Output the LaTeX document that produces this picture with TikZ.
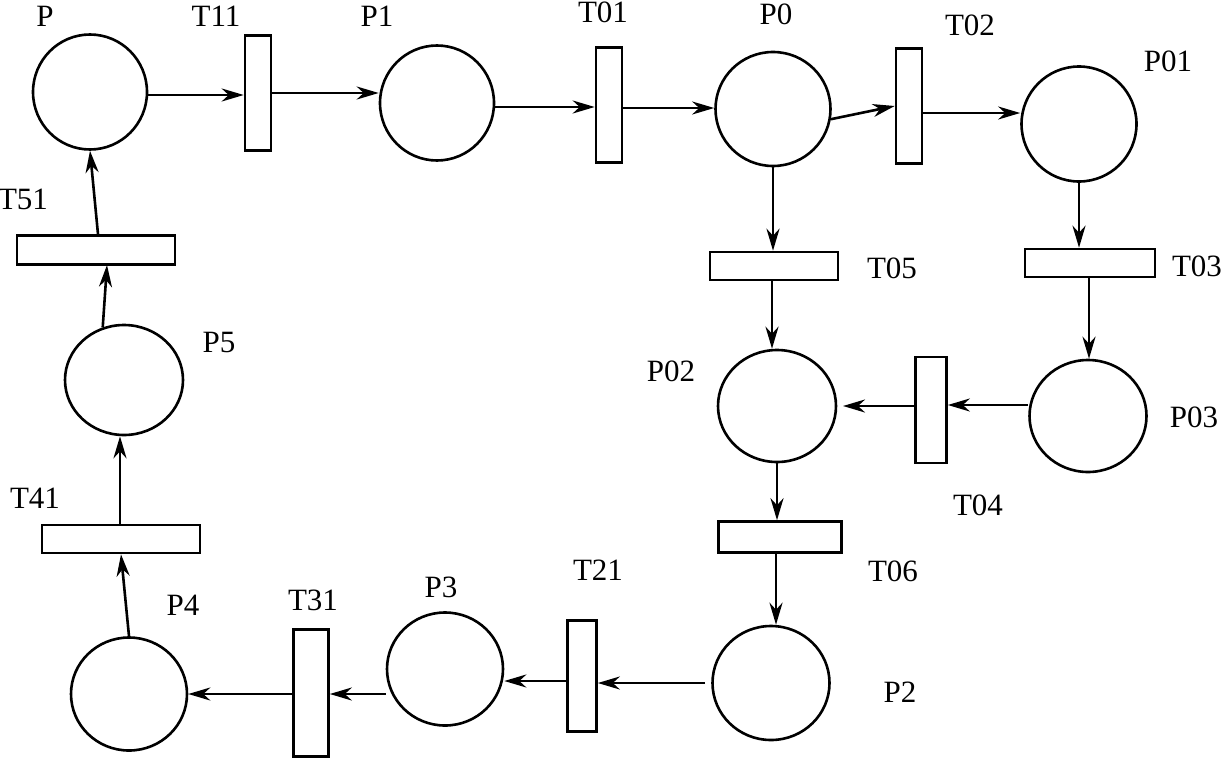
\documentclass[tikz,border=0pt]{standalone}
\usepackage{fontspec}
\setmainfont{Liberation Serif}
\usetikzlibrary{shapes.geometric,arrows.meta}
\begin{document}
\begin{tikzpicture}[x=1pt,y=-1pt,
  line width=2.6pt,
  place/.style={draw,ellipse,inner sep=0pt},
  vtrans/.style={draw,rectangle,inner sep=0pt,minimum width=26pt,minimum height=115pt},
  htrans/.style={draw,rectangle,inner sep=0pt,minimum width=128pt,minimum height=28pt},
  lbl/.style={inner sep=0pt,font=\fontsize{31}{33}\selectfont},
  arc/.style={-{Stealth[length=22pt,width=13pt,inset=7pt]}}]
\useasboundingbox (0,0) rectangle (1222,760);
% places
\node[place,minimum width=114pt,minimum height=115pt] (P) at (90,92) {};
\node[place,minimum width=114pt,minimum height=115pt] (P1) at (437,103) {};
\node[place,minimum width=115pt,minimum height=114pt] (P0) at (773,109) {};
\node[place,minimum width=115pt,minimum height=115pt] (P01) at (1079,124) {};
\node[place,minimum width=118pt,minimum height=112pt] (P02) at (777,406) {};
\node[place,minimum width=117pt,minimum height=112pt] (P03) at (1088,416) {};
\node[place,minimum width=117pt,minimum height=114pt] (P2) at (771,683) {};
\node[place,minimum width=116pt,minimum height=113pt] (P3) at (445,669) {};
\node[place,minimum width=116pt,minimum height=113pt] (P4) at (129,694) {};
\node[place,minimum width=118pt,minimum height=110pt] (P5) at (124,380) {};
% transitions
\node[vtrans] (T11) at (258,93) {};
\node[vtrans] (T01) at (609,105) {};
\node[vtrans] (T02) at (909,106) {};
\node[vtrans,minimum width=31pt,minimum height=106pt] (T04) at (931,410) {};
\node[vtrans,minimum width=29pt,minimum height=111pt] (T21) at (582,676) {};
\node[vtrans,minimum width=35pt,minimum height=127pt] (T31) at (311,693) {};
\node[htrans] (T05) at (774,266) {};
\node[htrans,minimum width=130pt] (T03) at (1090,263) {};
\node[htrans,minimum width=123pt,minimum height=31pt] (T06) at (780,537) {};
\node[htrans,minimum width=158pt] (T41) at (121,539) {};
\node[htrans,minimum width=158pt,minimum height=29pt] (T51) at (96,250) {};
% labels
\node[lbl] (lP) at (45,16) {P};
\node[lbl] (lT11) at (216,16) {T11};
\node[lbl] (lP1) at (377,16) {P1};
\node[lbl] (lT01) at (603,12) {T01};
\node[lbl] (lP0) at (776,14) {P0};
\node[lbl] (lT02) at (970,25) {T02};
\node[lbl] (lP01) at (1168,61) {P01};
\node[lbl] (lT51) at (23,199) {T51};
\node[lbl] (lT05) at (892,268) {T05};
\node[lbl] (lT03) at (1197,266) {T03};
\node[lbl] (lP5) at (219,342) {P5};
\node[lbl] (lP02) at (671,371) {P02};
\node[lbl] (lP03) at (1194,417) {P03};
\node[lbl] (lT04) at (978,505) {T04};
\node[lbl] (lT41) at (35,498) {T41};
\node[lbl] (lT06) at (893,571) {T06};
\node[lbl] (lT21) at (598,570) {T21};
\node[lbl] (lP3) at (441,587) {P3};
\node[lbl] (lT31) at (313,600) {T31};
\node[lbl] (lP4) at (183,605) {P4};
\node[lbl] (lP2) at (900,692) {P2};
% arcs
\draw[arc] (P.east |- 0,95) -- (T11.west |- 0,95);
\draw[arc] (T11.east |- 0,93) -- (P1.west |- 0,93);
\draw[arc] (P1.east |- 0,107) -- (T01.west |- 0,107);
\draw[arc] (T01.east |- 0,108) -- (P0.west |- 0,108);
\draw[arc] (P0.-10) -- (T02.west);
\draw[arc] (T02.east |- 0,113) -- (P01.west |- 0,113);
\draw[arc] (P0.south) -- (T05.north -| P0.south);
\draw[arc] (P01.south) -- (T03.north -| P01.south);
\draw[arc] (T05.south -| 772,0) -- (P02.north -| 772,0);
\draw[arc] (T03.south -| 1089,0) -- (P03.north -| 1089,0);
\draw[arc] (P03.west |- 0,405) -- (T04.east |- 0,405);
\draw[arc] (T04.west |- 0,406) -- (843,406);
\draw[arc] (P02.south) -- (T06.north -| P02.south);
\draw[arc] (T06.south -| 776,0) -- (P2.north -| 776,0);
\draw[arc] (705,683) -- (T21.east |- 0,683);
\draw[arc] (T21.west |- 0,681) -- (P3.east |- 0,681);
\draw[arc] (P3.west |- 0,694) -- (T31.east |- 0,694);
\draw[arc] (T31.west |- 0,694) -- (P4.east |- 0,694);
\draw[arc] (P4.north) -- (T41.south);
\draw[arc] (T41.north -| 120,0) -- (P5.south -| 120,0);
\draw[arc] (P5.112) -- (107,265);
\draw[arc] (T51.north -| 98,0) -- (P.south);
\end{tikzpicture}
\end{document}
